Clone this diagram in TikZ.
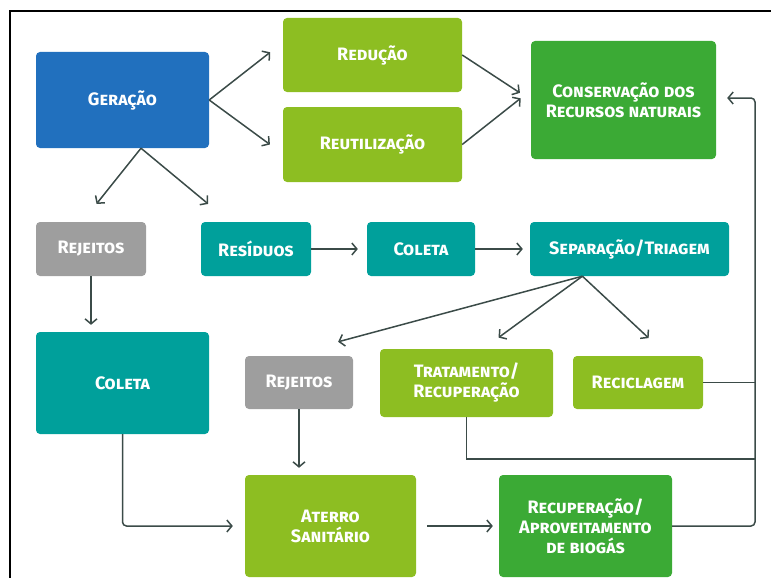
\documentclass[tikz,border=0pt]{standalone}
\usepackage{fontspec}
\setmainfont{Fira Sans}
\usetikzlibrary{arrows.meta}
\definecolor{azul}{HTML}{2170BE}
\definecolor{lima}{HTML}{8DBE22}
\definecolor{verde}{HTML}{3BAA35}
\definecolor{petroleo}{HTML}{00A09B}
\definecolor{cinza}{HTML}{9E9E9E}
\definecolor{seta}{HTML}{3B4B48}
\begin{document}
\begin{tikzpicture}[x=1pt,y=-1pt,>={Straight Barb[length=5pt,width=12pt]},
    box/.style={rounded corners=4pt,text=white,align=center,inner sep=2pt,
      font=\bfseries\scshape\fontsize{18}{20}\selectfont},
    link/.style={draw=seta,line width=1.5pt}]
    \useasboundingbox (0,0) rectangle (771,578);
    % 枠
    \draw[line width=1.5pt] (771,11) -- (10,11) -- (10,578);
    % 上の段
    \node[box,fill=azul,minimum width=173,minimum height=96] (gera) at (122.5,100) {Geração};
    \node[box,fill=lima,minimum width=179,minimum height=74] (redu) at (372.5,55) {Redução};
    \node[box,fill=lima,minimum width=179,minimum height=75] (reut) at (372.5,144.5) {Reutilização};
    \node[box,fill=verde,minimum width=185,minimum height=118] (cons) at (623.5,100) {Conservação dos\\Recursos naturais};
    % 中の段
    \node[box,fill=cinza,minimum width=110,minimum height=54] (rej1) at (91,249) {Rejeitos};
    \node[box,fill=petroleo,minimum width=110,minimum height=54] (resi) at (256,249) {Resíduos};
    \node[box,fill=petroleo,minimum width=108,minimum height=54] (col1) at (421,249) {Coleta};
    \node[box,fill=petroleo,minimum width=199,minimum height=54] (sepa) at (629.5,249) {Separação/Triagem};
    \node[box,fill=petroleo,minimum width=173,minimum height=102] (col2) at (122.5,383) {Coleta};
    \node[box,fill=cinza,minimum width=108,minimum height=53] (rej2) at (299,382.5) {Rejeitos};
    \node[box,fill=lima,minimum width=173,minimum height=68] (trat) at (466.5,383) {Tratamento/\\Recuperação};
    \node[box,fill=lima,minimum width=130,minimum height=53] (reci) at (638,382.5) {Reciclagem};
    % 下の段
    \node[box,fill=lima,minimum width=171,minimum height=102] (ater) at (330.5,526) {Aterro\\Sanitário};
    \node[box,fill=verde,minimum width=173,minimum height=102] (recu) at (585.5,526) {Recuperação/\\Aproveitamento\\de biogás};
    \coordinate (rail) at (755,98);
    \coordinate (junta) at (755,459);
    % 矢印
    \draw[link,->,shorten >=16pt] (gera.east) -- (redu.172);
    \draw[link,->,shorten >=16pt] (gera.east) -- (reut.186);
    \draw[link,->,shorten >=13pt] (redu.east) -- (cons.west);
    \draw[link,->,shorten >=13pt] (reut.east) -- (cons.174);
    \draw[link,->,shorten >=23pt] (gera.291) -- (rej1.108);
    \draw[link,->,shorten >=28pt] (gera.291) -- (resi.134);
    \draw[link,->,shorten >=9pt] (resi.east) -- (col1.west);
    \draw[link,->,shorten >=7pt] (col1.east) -- (sepa.west);
    \draw[link,->,shorten >=7pt] (rej1.south) -- (rej1.south |- col2.north);
    \draw[link,->,shorten >=54pt] (sepa.210) -- (rej2.116);
    \draw[link,->,shorten >=19pt] (sepa.210) -- (trat.64);
    \draw[link,->,shorten >=26pt] (sepa.210) -- (reci.42);
    \draw[link,->,shorten >=7pt] (rej2.south) -- (rej2.south |- ater.north);
    \draw[link,->,rounded corners=4pt,shorten >=12pt] (col2.south) |- (ater.west);
    \draw[link,->,shorten <=11pt,shorten >=6pt] (ater.east) -- (recu.west);
    % 右の戻り線
    \draw[link,->,rounded corners=4pt,shorten >=11pt] (recu.east) -| (rail) -- (rail -| cons.east);
    \draw[link] (reci.east) -- (reci.east -| rail);
    \draw[link] (trat.south) |- (junta);
\end{tikzpicture}
\end{document}
